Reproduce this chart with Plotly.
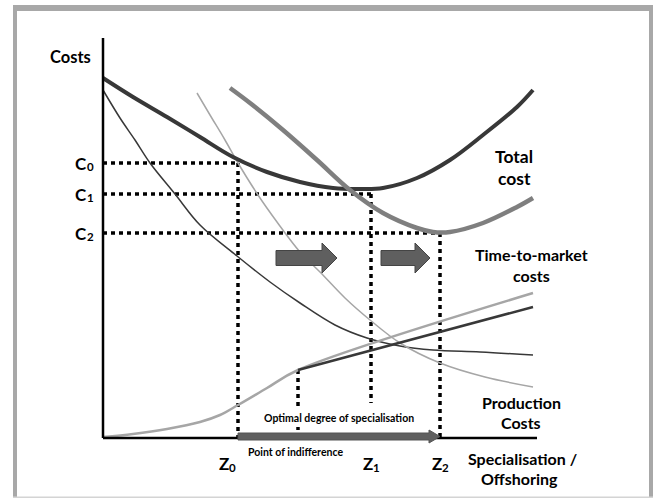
import plotly.graph_objects as go

# ---- data (x: degree of specialisation, y: costs; arbitrary units) ----
total_x = [0, 30, 64, 97, 130, 164, 197, 230, 257, 280, 314, 347, 380, 414, 430]
total_y = [360, 341, 321, 301, 281, 266, 256, 250, 249, 250, 260, 278, 303, 331, 348]

total2_x = [127, 147, 180, 214, 247, 280, 314, 330, 347, 380, 414, 430]
total2_y = [350, 335, 308, 278, 248, 225, 210, 206, 206, 215, 231, 240]

ttm_x = [0, 17, 32, 47, 72, 97, 134, 167, 197, 232, 264, 297, 330, 377, 430]
ttm_y = [348, 320, 298, 275, 244, 213, 182, 156, 135, 113, 100, 92, 88, 86, 83]

ttm2_x = [94, 107, 122, 135, 155, 174, 197, 217, 242, 267, 297, 337, 382, 430]
ttm2_y = [345, 323, 298, 275, 243, 216, 186, 166, 140, 118, 95, 75, 61, 51]

prod_x = [0, 30, 64, 97, 117, 135, 164, 195, 430]
prod_y = [1, 4, 9, 16, 23, 33, 50, 68, 145]

prod2_x = [195, 430]
prod2_y = [68, 131]

z_vals = [135, 268, 337]          # Z0, Z1, Z2
z_subs = ["0", "1", "2"]
c_vals = [275, 244, 205]          # C0, C1, C2
c_subs = ["0", "1", "2"]
indiff_x, indiff_y = 195, 68      # point of indifference
z1_stop = 35

shift_arrows_x0 = [173, 278]
shift_arrows_x1 = [234, 327]
shift_arrow_y = 180

x_axis_end = 434
y_axis_top = 400

DARK = "#383838"
MID = "#7f7f7f"
LIGHT = "#a6a6a6"
FONT = "Lato"

fig = go.Figure()

def dotted(xs, ys):
    fig.add_trace(go.Scatter(x=xs, y=ys, mode="lines",
                             line=dict(color="black", width=3.5, dash="4px,4px"),
                             hoverinfo="skip", showlegend=False))

# dotted guides
for c, z in zip(c_vals, z_vals):
    dotted([0, z], [c, c])
dotted([z_vals[0], z_vals[0]], [c_vals[0], 0])
dotted([z_vals[1], z_vals[1]], [c_vals[1], z1_stop])
dotted([z_vals[2], z_vals[2]], [c_vals[2], 0])
dotted([indiff_x, indiff_x], [indiff_y, 0])

def curve(xs, ys, color, width):
    fig.add_trace(go.Scatter(x=xs, y=ys, mode="lines",
                             line=dict(color=color, width=width, shape="spline", smoothing=1.0),
                             hoverinfo="skip", showlegend=False))

curve(ttm_x, ttm_y, DARK, 1.5)
curve(ttm2_x, ttm2_y, LIGHT, 1.5)
curve(prod_x, prod_y, LIGHT, 2.5)
curve(prod2_x, prod2_y, DARK, 2.5)
curve(total_x, total_y, DARK, 4)
curve(total2_x, total2_y, MID, 4.5)

shapes = []
# frame
shapes.append(dict(type="rect", xref="paper", yref="paper", x0=13/654, x1=17/654,
                   y0=1-497/499, y1=1-5/499, fillcolor="#a8a8a8", line_width=0, layer="below"))
shapes.append(dict(type="rect", xref="paper", yref="paper", x0=13/654, x1=653/654,
                   y0=1-11/499, y1=1-5/499, fillcolor="#a8a8a8", line_width=0, layer="below"))
shapes.append(dict(type="rect", xref="paper", yref="paper", x0=649/654, x1=653/654,
                   y0=1-497/499, y1=1-5/499, fillcolor="#a8a8a8", line_width=0, layer="below"))
shapes.append(dict(type="rect", xref="paper", yref="paper", x0=13/654, x1=653/654,
                   y0=1-498/499, y1=1-496.5/499, fillcolor="#d4d4d4", line_width=0, layer="below"))
# axes
shapes.append(dict(type="line", x0=0, x1=0, y0=0, y1=y_axis_top, line=dict(color="black", width=2.5)))
shapes.append(dict(type="line", x0=0, x1=x_axis_end, y0=0, y1=0, line=dict(color="black", width=2.5)))
# white box behind label
shapes.append(dict(type="rect", x0=150, x1=321, y0=11, y1=28, fillcolor="white",
                   line_width=0, layer="above"))

def block_arrow(x0, x1, y, sh, hh, hl, color, outline):
    xh = x1 - hl
    path = (f"M {x0},{y-sh} L {xh},{y-sh} L {xh},{y-hh} L {x1},{y} L {xh},{y+hh} "
            f"L {xh},{y+sh} L {x0},{y+sh} Z")
    return dict(type="path", path=path, fillcolor=color,
                line=dict(color=outline, width=1), layer="above")

for a0, a1 in zip(shift_arrows_x0, shift_arrows_x1):
    shapes.append(block_arrow(a0, a1, shift_arrow_y, 7.5, 15, 15, "#5f5f5f", "#444444"))
shapes.append(block_arrow(z_vals[0], z_vals[2], 1.5, 3.5, 6.5, 11, "#5f5f5f", "#555555"))

fig.update_layout(shapes=shapes)

ann = []
def text(x, y, s, size=16, anchor="center"):
    ann.append(dict(x=x, y=y, text=s, showarrow=False, borderpad=0,
                    font=dict(family=FONT, size=size, color="black", weight="bold"),
                    xanchor=anchor, yanchor="middle"))

text(-33, 381, "Costs", 16.5)
for c, sub in zip(c_vals, c_subs):
    text(-15, c, "C", 17, "right")
    text(-17, c - 3, sub, 11.5, "left")
for i, (z, sub) in enumerate(zip(z_vals, z_subs)):
    zx = z - 8 if i == 0 else z + 3
    text(zx, -25, "Z", 17, "right")
    text(zx - 2, -29, sub, 11.5, "left")
text(411, 282, "Total", 17.5)
text(411, 260, "cost", 17.5)
text(428, 184, "Time-to-market", 16)
text(428, 163, "costs", 16)
text(418, 36, "Production", 16)
text(418, 16, "Costs", 16)
text(419, -20, "Specialisation /", 16)
text(416, -40, "Offshoring", 16)
text(192, -14, "Point of indifference", 10.5)
text(236, 20, "Optimal degree of specialisation", 10.5)

fig.update_layout(
    annotations=ann,
    width=654, height=499,
    margin=dict(l=0, r=0, t=0, b=0),
    paper_bgcolor="white", plot_bgcolor="white",
    xaxis=dict(range=[-103, 551], visible=False, fixedrange=True),
    yaxis=dict(range=[-61, 438], visible=False, fixedrange=True),
    showlegend=False,
)

fig.write_html("out.html",
               config={"displayModeBar": False, "staticPlot": True},
               post_script="document.body.style.margin='0';document.body.style.padding='0';"
                           "document.body.style.overflow='hidden';")
